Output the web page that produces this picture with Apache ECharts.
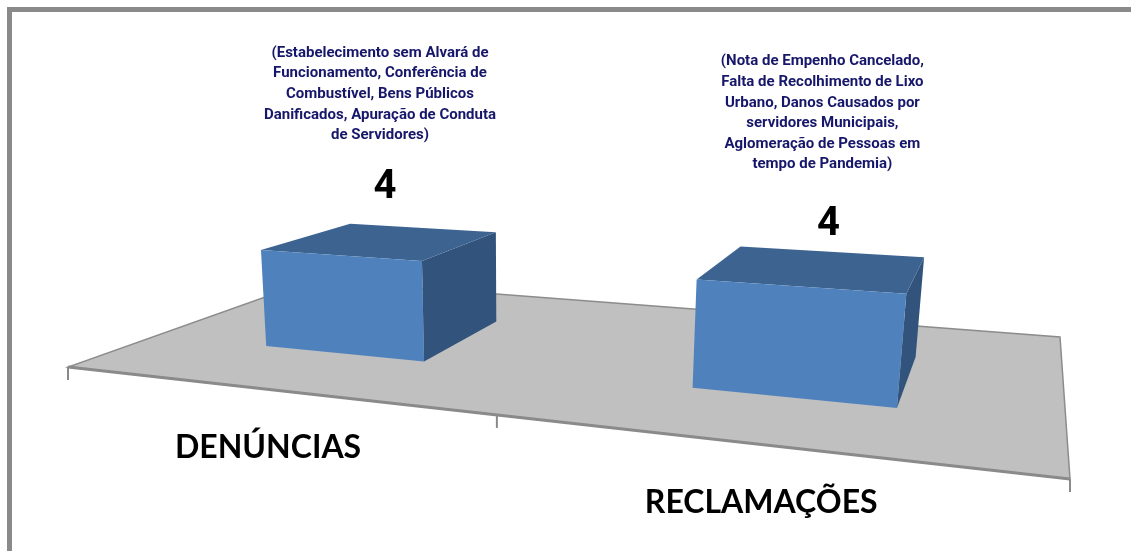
<!DOCTYPE html>
<html>
<head>
<meta charset="utf-8">
<script src="https://cdn.jsdelivr.net/npm/echarts@6/dist/echarts.min.js"></script>
<style>
  html, body { margin: 0; padding: 0; background: #fff; }
  #grafico { width: 1131px; height: 551px; }
</style>
</head>
<body>
<div id="grafico"></div>
<script>
// dados do grafico
var categorias = ['DENÚNCIAS', 'RECLAMAÇÕES'];
var valores = [4, 4];
var notas = [
  '(Estabelecimento sem Alvará de\nFuncionamento, Conferência de\nCombustível, Bens Públicos\nDanificados, Apuração de Conduta\nde Servidores)',
  '(Nota de Empenho Cancelado,\nFalta de Recolhimento de Lixo\nUrbano, Danos Causados por\nservidores Municipais,\nAglomeração de Pessoas em\ntempo de Pandemia)'
];
var eixoMax = 5;

// perspectiva: cantos do piso (frente-esq, frente-dir, fundo-dir, fundo-esq)
var piso = [[68, 367], [1070, 479], [1060, 337], [313, 280]];
var fuga = [520, 5000];      // ponto de fuga das verticais
var altura = 0.02689;        // escala vertical da perspectiva
var profundidade = [0.3, 0.7];
var deslocRotulo = [[2, -53], [13, -43]];
var deslocNota = [[-5, -52], [-6, -60]];

var H = (function (p) {
  var x0 = p[0][0], y0 = p[0][1], x1 = p[1][0], y1 = p[1][1];
  var x2 = p[2][0], y2 = p[2][1], x3 = p[3][0], y3 = p[3][1];
  var dx1 = x1 - x2, dx2 = x3 - x2, dx3 = x0 - x1 + x2 - x3;
  var dy1 = y1 - y2, dy2 = y3 - y2, dy3 = y0 - y1 + y2 - y3;
  var den = dx1 * dy2 - dx2 * dy1;
  var g = (dx3 * dy2 - dx2 * dy3) / den;
  var h = (dx1 * dy3 - dx3 * dy1) / den;
  return {
    a: x1 - x0 + g * x1, b: x3 - x0 + h * x3, c: x0,
    d: y1 - y0 + g * y1, e: y3 - y0 + h * y3, f: y0, g: g, h: h
  };
})(piso);

function projetar(u, v, t) {
  var X = H.a * u + H.b * v + H.c + t * fuga[0];
  var Y = H.d * u + H.e * v + H.f + t * fuga[1];
  var W = H.g * u + H.h * v + 1 + t;
  return [X / W, Y / W];
}

function renderBarra(params, api) {
  var cs = params.coordSys;
  var idx = api.value(0);
  var base = api.coord([idx, 0]);
  var topo = api.coord([idx, api.value(1)]);
  var meia = api.size([1, 0])[0] * 0.4 / 2;
  var u0 = (base[0] - meia - cs.x) / cs.width;
  var u1 = (base[0] + meia - cs.x) / cs.width;
  var uc = (base[0] - cs.x) / cs.width;
  var t = -(base[1] - topo[1]) / cs.height * altura;
  var v0 = profundidade[0], v1 = profundidade[1];

  var lado = [projetar(u1, v0, 0), projetar(u1, v1, 0), projetar(u1, v1, t), projetar(u1, v0, t)];
  var tampa = [projetar(u0, v0, t), projetar(u1, v0, t), projetar(u1, v1, t), projetar(u0, v1, t)];
  var frente = [projetar(u0, v0, 0), projetar(u1, v0, 0), projetar(u1, v0, t), projetar(u0, v0, t)];

  var centroTopo = projetar(uc, 0.5, t);
  var num = [centroTopo[0] + deslocRotulo[idx][0], centroTopo[1] + deslocRotulo[idx][1]];
  var pe = projetar(uc, 0, 0);

  return {
    type: 'group',
    children: [
      { type: 'polygon', shape: { points: lado }, style: { fill: '#31537c' } },
      { type: 'polygon', shape: { points: tampa }, style: { fill: '#3d6491' } },
      { type: 'polygon', shape: { points: frente }, style: { fill: '#4f81bd' } },
      {
        type: 'text', x: num[0], y: num[1],
        style: { text: String(api.value(1)), fill: '#000', font: 'bold 40px Roboto', align: 'center', verticalAlign: 'middle' }
      },
      {
        type: 'text', x: num[0] + deslocNota[idx][0], y: num[1] + deslocNota[idx][1] + 10,
        style: { text: notas[idx], fill: '#16166a', font: 'bold 15px Roboto', lineHeight: 20.6, align: 'center', verticalAlign: 'bottom' }
      },
      {
        type: 'text', x: pe[0], y: pe[1] + 58,
        style: { text: categorias[idx], fill: '#000', font: 'bold 32px Lato', align: 'center', verticalAlign: 'middle' }
      }
    ]
  };
}

var myChart = echarts.init(document.getElementById('grafico'));

// piso e marcas do eixo
var cantos = [projetar(0, 0, 0), projetar(1, 0, 0), projetar(1, 1, 0), projetar(0, 1, 0)];
var marcas = [];
[0, 0.5, 1].forEach(function (u) {
  var p = projetar(u, 0, 0);
  marcas.push({ type: 'line', shape: { x1: p[0], y1: p[1], x2: p[0], y2: p[1] + 13 }, style: { stroke: '#8a8a8a', lineWidth: 2 } });
});

var option = {
  backgroundColor: '#fff',
  animation: false,
  grid: { left: 0, right: 0, top: 0, bottom: 0 },
  xAxis: { type: 'category', data: categorias, show: false },
  yAxis: { type: 'value', min: 0, max: eixoMax, show: false },
  graphic: [
    { type: 'rect', shape: { x: 9.5, y: 9.5, width: 1300, height: 700 }, style: { fill: 'none', stroke: '#8a8a8a', lineWidth: 5 } },
    { type: 'polygon', shape: { points: cantos }, style: { fill: '#c0c0c0', stroke: '#8c8c8c', lineWidth: 1.5 } },
    { type: 'polyline', shape: { points: [cantos[0], cantos[1]] }, style: { stroke: '#8a8a8a', lineWidth: 3 } }
  ].concat(marcas),
  series: [{
    type: 'custom',
    renderItem: renderBarra,
    encode: { x: 0, y: 1 },
    data: valores.map(function (v, i) { return [i, v]; })
  }]
};
myChart.setOption(option);
</script>
</body>
</html>
